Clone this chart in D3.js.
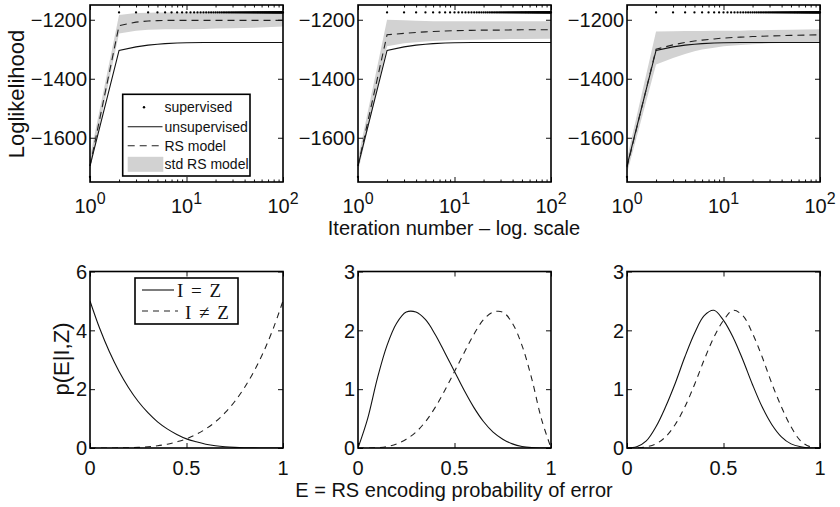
<!DOCTYPE html>
<html>
<head>
<meta charset="utf-8">
<script src="https://cdn.jsdelivr.net/npm/d3@7"></script>
<style>
  body { margin: 0; background: #fff; }
  svg { display: block; }
  text { font-family: "Liberation Sans", Arial, Helvetica, sans-serif; fill: #111; }
</style>
</head>
<body>
<svg id="fig" width="840" height="507"></svg>
<script>
// ---------- data: log-likelihood vs. iteration ----------
const iterations = [1, 2, 3, 4, 5, 6, 8, 10, 15, 20, 30, 50, 100];
const unsupervised = [-1695, -1304, -1292, -1286, -1283, -1281, -1279, -1278, -1277, -1277, -1277, -1277, -1277];

const rsMeanA = [-1695, -1220, -1208, -1204, -1203, -1202, -1202, -1202, -1202, -1202, -1202, -1202, -1202];
const rsLowA  = [-1710, -1247, -1237, -1234, -1233, -1232, -1232, -1232, -1231, -1230, -1229, -1227, -1223];
const rsHighA = [-1665, -1184, -1177, -1176, -1175, -1175, -1175, -1175, -1175, -1175, -1176, -1176, -1177];

const rsMeanB = [-1695, -1251, -1246, -1243, -1241, -1240, -1238, -1237, -1236, -1235, -1235, -1234, -1234];
const rsLowB  = [-1715, -1290, -1280, -1276, -1274, -1272, -1270, -1269, -1268, -1267, -1266, -1265, -1264];
const rsHighB = [-1670, -1200, -1202, -1203, -1204, -1205, -1205, -1205, -1205, -1205, -1205, -1205, -1205];

const rsMeanC = [-1700, -1300, -1285, -1277, -1272, -1269, -1265, -1262, -1259, -1257, -1255, -1253, -1251];
const rsLowC  = [-1720, -1352, -1330, -1316, -1307, -1301, -1295, -1290, -1286, -1283, -1280, -1278, -1277];
const rsHighC = [-1670, -1240, -1239, -1238, -1238, -1238, -1237, -1237, -1237, -1236, -1235, -1234, -1232];

// supervised log-likelihood at every iteration 1..100
const supervised = [
  -1733, -1175, -1175, -1175, -1175, -1175, -1175, -1175, -1175, -1175,
  -1175, -1175, -1175, -1175, -1175, -1175, -1175, -1175, -1175, -1175,
  -1175, -1175, -1175, -1175, -1175, -1175, -1175, -1175, -1175, -1175,
  -1175, -1175, -1175, -1175, -1175, -1175, -1175, -1175, -1175, -1175,
  -1175, -1175, -1175, -1175, -1175, -1175, -1175, -1175, -1175, -1175,
  -1175, -1175, -1175, -1175, -1175, -1175, -1175, -1175, -1175, -1175,
  -1175, -1175, -1175, -1175, -1175, -1175, -1175, -1175, -1175, -1175,
  -1175, -1175, -1175, -1175, -1175, -1175, -1175, -1175, -1175, -1175,
  -1175, -1175, -1175, -1175, -1175, -1175, -1175, -1175, -1175, -1175,
  -1175, -1175, -1175, -1175, -1175, -1175, -1175, -1175, -1175, -1175
];

const iterTicks = [1, 10, 100];
const iterMinor = [2, 3, 4, 5, 6, 7, 8, 9, 20, 30, 40, 50, 60, 70, 80, 90];
const llTicks = [-1600, -1400, -1200];
const llDomain = [-1750, -1150];

// ---------- data: p(E | I, Z) ----------
const errorGrid = [0, 0.05, 0.1, 0.15, 0.2, 0.25, 0.3, 0.35, 0.4, 0.45, 0.5,
                   0.55, 0.6, 0.65, 0.7, 0.75, 0.8, 0.85, 0.9, 0.95, 1];

const pSameA = [5, 4.07, 3.28, 2.61, 2.05, 1.58, 1.2, 0.89, 0.65, 0.46, 0.31,
                0.21, 0.13, 0.075, 0.04, 0.02, 0.008, 0.003, 0.0005, 0, 0];
const pDiffA = [0, 0, 0.0005, 0.003, 0.008, 0.02, 0.04, 0.075, 0.13, 0.21, 0.31,
                0.46, 0.65, 0.89, 1.2, 1.58, 2.05, 2.61, 3.28, 4.07, 5];

const pSameB = [0, 0.5, 1.18, 1.74, 2.12, 2.31, 2.31, 2.18, 1.93, 1.62, 1.3,
                0.98, 0.69, 0.45, 0.27, 0.15, 0.07, 0.025, 0.006, 0, 0];
const pDiffB = [0, 0, 0.006, 0.025, 0.07, 0.15, 0.27, 0.45, 0.69, 0.98, 1.3,
                1.62, 1.93, 2.18, 2.31, 2.31, 2.12, 1.74, 1.18, 0.5, 0];

const pSameC = [0, 0.02, 0.12, 0.36, 0.7, 1.1, 1.55, 1.95, 2.25, 2.34, 2.17,
                1.88, 1.5, 1.08, 0.7, 0.4, 0.19, 0.07, 0.02, 0, 0];
const pDiffC = [0, 0, 0.02, 0.07, 0.19, 0.4, 0.7, 1.08, 1.5, 1.88, 2.17,
                2.34, 2.25, 1.95, 1.55, 1.1, 0.7, 0.36, 0.12, 0.02, 0];

const eTicks = [0, 0.5, 1];
const pTicksA = [0, 2, 4, 6];
const pTicksB = [0, 1, 2, 3];

// ---------- layout ----------
const svg = d3.select("#fig");
const W = 193;
const colX = [90, 358, 627];
const topRow = { y: 5, h: 177 };
const botRow = { y: 271.5, h: 176.5 };
const BAND = "#d2d2d2";
const fmtMinus = d3.format("d");
const SERIF = "'Liberation Serif', 'Times New Roman', serif";

function frameAndTicks(g, x, y, h, xMajor, xMinor, yVals) {
  const tk = (sel) => sel.call(s => s.select(".domain").remove())
                         .call(s => s.selectAll("line").attr("stroke", "#111").attr("stroke-width", 1));
  g.append("g").attr("transform", `translate(0,${h})`)
    .call(d3.axisBottom(x).tickValues(xMajor).tickSize(-5).tickFormat("")).call(tk);
  g.append("g")
    .call(d3.axisTop(x).tickValues(xMajor).tickSize(-5).tickFormat("")).call(tk);
  if (xMinor) {
    g.append("g").attr("transform", `translate(0,${h})`)
      .call(d3.axisBottom(x).tickValues(xMinor).tickSize(-2.5).tickFormat("")).call(tk);
    g.append("g")
      .call(d3.axisTop(x).tickValues(xMinor).tickSize(-2.5).tickFormat("")).call(tk);
  }
  g.append("g").call(d3.axisLeft(y).tickValues(yVals).tickSize(-5).tickFormat("")).call(tk);
  g.append("g").attr("transform", `translate(${W},0)`)
    .call(d3.axisRight(y).tickValues(yVals).tickSize(-5).tickFormat("")).call(tk);
  g.append("rect").attr("width", W).attr("height", h)
    .attr("fill", "none").attr("stroke", "#000").attr("stroke-width", 1.6);
}

function yLabels(g, y, vals, fmt) {
  g.selectAll(null).data(vals).enter().append("text")
    .attr("x", -3).attr("y", d => y(d)).attr("dy", "0.36em")
    .attr("text-anchor", "end").attr("font-size", 20)
    .text(fmt);
}

// ---------- top row: log-likelihood panels ----------
const topPanels = [
  { mean: rsMeanA, low: rsLowA, high: rsHighA },
  { mean: rsMeanB, low: rsLowB, high: rsHighB },
  { mean: rsMeanC, low: rsLowC, high: rsHighC }
];

topPanels.forEach((p, k) => {
  const g = svg.append("g").attr("transform", `translate(${colX[k]},${topRow.y})`);
  const x = d3.scaleLog().domain([1, 100]).range([0, W]);
  const y = d3.scaleLinear().domain(llDomain).range([topRow.h, 0]);

  const band = d3.area()
    .x((d, i) => x(iterations[i]))
    .y0((d, i) => y(p.low[i]))
    .y1((d, i) => y(p.high[i]));
  g.append("path").datum(iterations).attr("d", band).attr("fill", BAND);

  g.append("g").selectAll("circle").data(supervised).enter().append("circle")
    .attr("cx", (d, i) => x(i + 1)).attr("cy", d => y(d)).attr("r", 1.15).attr("fill", "#000");

  const line = (vals) => d3.line().x((d, i) => x(iterations[i])).y((d, i) => y(vals[i]));
  g.append("path").datum(iterations).attr("d", line(unsupervised))
    .attr("fill", "none").attr("stroke", "#111").attr("stroke-width", 1.1);
  g.append("path").datum(iterations).attr("d", line(p.mean))
    .attr("fill", "none").attr("stroke", "#222").attr("stroke-width", 1.1)
    .attr("stroke-dasharray", "7,5");

  frameAndTicks(g, x, y, topRow.h, iterTicks, iterMinor, llTicks);
  yLabels(g, y, llTicks, d => fmtMinus(d));

  // 10^n tick labels
  iterTicks.forEach(t => {
    const tx = g.append("text").attr("x", x(t)).attr("y", topRow.h + 31)
      .attr("text-anchor", "middle").attr("font-size", 20);
    tx.append("tspan").text("10");
    tx.append("tspan").attr("dy", -9).attr("font-size", 16).text(Math.round(Math.log10(t)));
  });
});

// legend of the first panel
{
  const lg = svg.append("g");
  lg.append("rect").attr("x", 122.7).attr("y", 94.3).attr("width", 127.3).attr("height", 81.7)
    .attr("fill", "#fff").attr("stroke", "#000").attr("stroke-width", 1.6);
  const rows = [107.3, 126.7, 145.7, 164.3];
  const names = ["supervised", "unsupervised", "RS model", "std RS model"];
  lg.append("circle").attr("cx", 144).attr("cy", rows[0]).attr("r", 1.2).attr("fill", "#000");
  lg.append("line").attr("x1", 127.7).attr("x2", 162.5).attr("y1", rows[1]).attr("y2", rows[1])
    .attr("stroke", "#111").attr("stroke-width", 1.1);
  lg.append("line").attr("x1", 127.7).attr("x2", 163.5).attr("y1", rows[2]).attr("y2", rows[2])
    .attr("stroke", "#222").attr("stroke-width", 1.1).attr("stroke-dasharray", "7,5");
  lg.append("rect").attr("x", 127.7).attr("y", rows[3] - 7.5).attr("width", 35.6).attr("height", 15)
    .attr("fill", BAND);
  names.forEach((n, i) => {
    lg.append("text").attr("x", 164.5).attr("y", rows[i]).attr("dy", "0.35em")
      .attr("font-size", 14).text(n);
  });
}

// ---------- bottom row: p(E | I, Z) panels ----------
const botPanels = [
  { same: pSameA, diff: pDiffA, yMax: 6, ticks: pTicksA },
  { same: pSameB, diff: pDiffB, yMax: 3, ticks: pTicksB },
  { same: pSameC, diff: pDiffC, yMax: 3, ticks: pTicksB }
];

botPanels.forEach((p, k) => {
  const g = svg.append("g").attr("transform", `translate(${colX[k]},${botRow.y})`);
  const x = d3.scaleLinear().domain([0, 1]).range([0, W]);
  const y = d3.scaleLinear().domain([0, p.yMax]).range([botRow.h, 0]);

  const clipId = "clip" + k;
  g.append("clipPath").attr("id", clipId).append("rect").attr("width", W).attr("height", botRow.h);
  const curves = g.append("g").attr("clip-path", `url(#${clipId})`);
  const line = (vals) => d3.line().curve(d3.curveCatmullRom.alpha(0.5))
    .x((d, i) => x(errorGrid[i])).y((d, i) => y(vals[i]));
  curves.append("path").datum(errorGrid).attr("d", line(p.same))
    .attr("fill", "none").attr("stroke", "#111").attr("stroke-width", 1.1);
  curves.append("path").datum(errorGrid).attr("d", line(p.diff))
    .attr("fill", "none").attr("stroke", "#222").attr("stroke-width", 1.1)
    .attr("stroke-dasharray", "6,5");

  frameAndTicks(g, x, y, botRow.h, eTicks, null, p.ticks);
  yLabels(g, y, p.ticks, d => d);
  g.selectAll(null).data(eTicks).enter().append("text")
    .attr("x", d => x(d)).attr("y", botRow.h + 27).attr("text-anchor", "middle")
    .attr("font-size", 20).text(d => d);
});

// legend of the first bottom panel
{
  const lg = svg.append("g");
  lg.append("rect").attr("x", 135).attr("y", 278).attr("width", 103).attr("height", 46)
    .attr("fill", "#fff").attr("stroke", "#000").attr("stroke-width", 1.6);
  lg.append("line").attr("x1", 142).attr("x2", 174).attr("y1", 290).attr("y2", 290)
    .attr("stroke", "#111").attr("stroke-width", 1.1);
  lg.append("line").attr("x1", 142).attr("x2", 178).attr("y1", 311).attr("y2", 311)
    .attr("stroke", "#222").attr("stroke-width", 1.1).attr("stroke-dasharray", "6,5");
  lg.append("text").attr("x", 177).attr("y", 296.5).attr("font-size", 19)
    .attr("word-spacing", 3).style("font-family", SERIF).text("I = Z");
  lg.append("text").attr("x", 185).attr("y", 318.5).attr("font-size", 19)
    .attr("word-spacing", 3).style("font-family", SERIF).text("I ≠ Z");
}

// ---------- axis titles ----------
svg.append("text").attr("transform", "translate(23.5,94) rotate(-90)")
  .attr("text-anchor", "middle").attr("font-size", 22).text("Loglikelihood");
svg.append("text").attr("transform", "translate(69,359) rotate(-90)")
  .attr("text-anchor", "middle").attr("font-size", 22).text("p(E|I,Z)");
svg.append("text").attr("x", 454).attr("y", 234.5)
  .attr("text-anchor", "middle").attr("font-size", 20).text("Iteration number – log. scale");
svg.append("text").attr("x", 454).attr("y", 496.5)
  .attr("text-anchor", "middle").attr("font-size", 20).text("E = RS encoding probability of error");
</script>
</body>
</html>
